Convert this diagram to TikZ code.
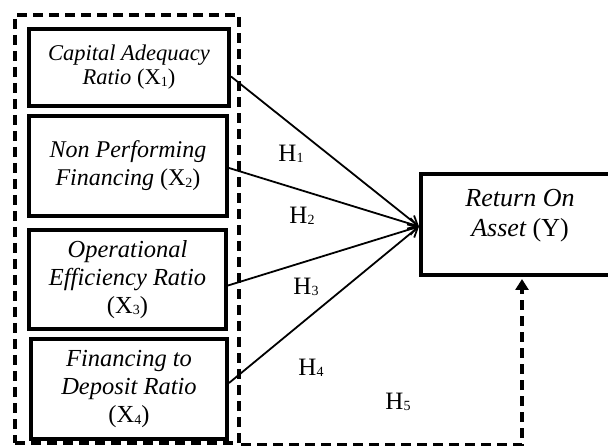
\documentclass[tikz,border=0pt]{standalone}
\usepackage{fontspec}
\setmainfont{Liberation Serif}
\usetikzlibrary{arrows.meta}
\newcommand{\sbs}[1]{\raisebox{-1.5pt}{\fontsize{14}{14}\selectfont #1}}
\tikzset{
  x=1pt, y=-1pt,
  varbox/.style={draw, line width=4pt, align=center, inner sep=0pt,
     font=\fontsize{24.5}{28}\selectfont},
  grpbox/.style={draw, line width=4pt, dash pattern=on 10pt off 6pt},
  hyp/.style={-{Straight Barb[length=9pt,width=11pt]}, line width=1.8pt},
  dasharrow/.style={line width=4pt, dash pattern=on 10pt off 6pt,
     -{Triangle[length=11pt,width=13pt]}},
  hlabel/.style={font=\fontsize{25}{28}\selectfont, inner sep=0pt},
  txt/.style={font=\fontsize{26}{30}\selectfont, align=center, inner sep=0pt}
}
\begin{document}
\begin{tikzpicture}
\useasboundingbox (0,0) rectangle (608,446);
\clip (0,0) rectangle (608,446);
\node[grpbox, minimum width=224pt, minimum height=428pt] (grp) at (127,229) {};
\node[varbox, minimum width=200pt, minimum height=77pt, font=\fontsize{22.5}{24}\selectfont] (b1) at (129,67.5)
  {\itshape Capital Adequacy\\ \itshape Ratio \upshape (X\sbs{1})};
\node[varbox, minimum width=198pt, minimum height=100pt, font=\fontsize{24}{28}\selectfont] (b2) at (128,166)
  {\itshape Non Performing\\ \itshape Financing \upshape (X\sbs{2})};
\node[varbox, minimum width=197pt, minimum height=99pt] (b3) at (127.5,279.5)
  {\itshape Operational\\ \itshape Efficiency Ratio\\ (X\sbs{3})};
\node[varbox, minimum width=196pt, minimum height=100pt] (b4) at (129,389)
  {\itshape Financing to\\ \itshape Deposit Ratio\\ (X\sbs{4})};
\node[varbox, minimum width=202pt, minimum height=101pt] (roa) at (522,224.5) {};
\node[txt] (roatext) at (520,216) {\itshape Return On\\ \itshape Asset \upshape (Y)};
\draw[hyp] ([yshift=-9pt]b1.east) -- ([yshift=-2pt]roa.west);
\draw[hyp] ([yshift=-2pt]b2.east) -- ([yshift=-2pt]roa.west);
\draw[hyp] ([yshift=-6pt]b3.east) -- ([yshift=-2pt]roa.west);
\draw[hyp] ([yshift=6pt]b4.east) -- ([yshift=-2pt]roa.west);
\draw[dasharrow] (grp.south east) -| ([yshift=-2pt]roa.south);
\node[hlabel] (h1) at (291,154) {H\sbs{1}};
\node[hlabel] (h2) at (302,216) {H\sbs{2}};
\node[hlabel] (h3) at (306,287) {H\sbs{3}};
\node[hlabel] (h4) at (311,368) {H\sbs{4}};
\node[hlabel] (h5) at (398,402) {H\sbs{5}};
\end{tikzpicture}
\end{document}
